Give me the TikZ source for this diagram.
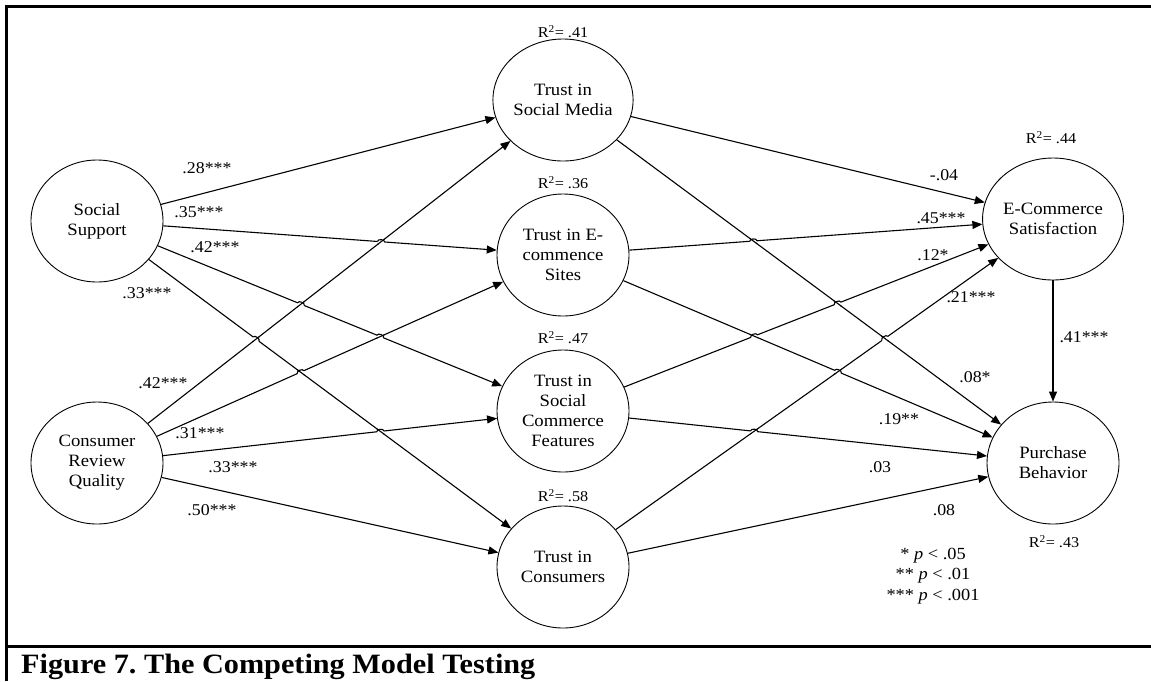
\documentclass[tikz,border=0pt]{standalone}
\usepackage{fontspec}
\setmainfont{Liberation Serif}[FakeStretch=1.08]
\usetikzlibrary{shapes.geometric,arrows.meta,calc,intersections}
\frenchspacing

\begin{document}
\begin{tikzpicture}[x=1pt,y=-1pt,
        latent/.style={ellipse,draw,line width=0.9pt,minimum width=132pt,minimum height=122pt,
                       inner sep=0pt,align=center,font=\fontsize{17.3}{20}\selectfont},
        coef/.style={inner sep=0pt,font=\fontsize{16.5}{18}\selectfont},
        rsq/.style={inner sep=0pt,font=\fontsize{15}{17}\selectfont},
        link/.style={line width=1.1pt,-{Triangle[length=10pt,width=8pt]}}]
        \useasboundingbox (0,0) rectangle (1151,681);
        % frame
        \draw[line width=3pt] (1151,6) -- (6,6) -- (6,681);
        \draw[line width=3pt] (6,646) -- (1151,646);

        \node[latent] (ss)   at (97,221)   {Social\\Support};
        \node[latent] (crq)  at (97,463)   {Consumer\\Review\\Quality};
        \node[latent] (tsm)  at (563,100)  {Trust in\\Social Media};
        \node[latent] (tes)  at (563,255)  {Trust in E-\\commence\\Sites};
        \node[latent] (tscf) at (563,411)  {Trust in\\Social\\Commerce\\Features};
        \node[latent] (tc)   at (563,567)  {Trust in\\Consumers};
        \node[latent] (ecs)  at (1053,219) {E-Commerce\\Satisfaction};
        \node[latent] (pb)   at (1053,463) {Purchase\\Behavior};

        \node[rsq] (r_tsm)  at (563,32)   {R\textsuperscript{2}= .41};
        \node[rsq] (r_tes)  at (563,183)  {R\textsuperscript{2}= .36};
        \node[rsq] (r_tscf) at (563,338)  {R\textsuperscript{2}= .47};
        \node[rsq] (r_tc)   at (563,496)  {R\textsuperscript{2}= .58};
        \node[rsq] (r_ecs)  at (1051,138) {R\textsuperscript{2}= .44};
        \node[rsq] (r_pb)   at (1054,542) {R\textsuperscript{2}= .43};

        \path[link]
        (ss)   edge (tsm)
               edge (tes)
               edge (tscf)
               edge (tc)
        (crq)  edge (tsm)
               edge (tes)
               edge (tscf)
               edge (tc)
        (tsm)  edge (ecs)
               edge (pb)
        (tes)  edge (ecs)
               edge (pb)
        (tscf) edge (ecs)
               edge (pb)
        (tc)   edge (ecs)
               edge (pb)
        (ecs)  edge (pb);

        % line jumps: the flatter line hops over the steeper one
        \foreach \a/\b/\c/\d in {ss/tes/crq/tsm, ss/tscf/crq/tsm, ss/tscf/crq/tes,
                                 ss/tc/crq/tsm, crq/tes/ss/tc, crq/tscf/ss/tc,
                                 tes/ecs/tsm/pb, tscf/ecs/tsm/pb, tc/ecs/tsm/pb,
                                 tscf/ecs/tes/pb, tes/pb/tc/ecs, tscf/pb/tc/ecs}{
            \path[name path=hop] (\a) -- (\b);
            \path[name path=under] (\c) -- (\d);
            \path[name intersections={of=hop and under,by=x}];
            \fill[white] (x) circle (3.6);
            \draw[line width=1.1pt] ($(x)!4.5pt!(\c)$) -- ($(x)!4.5pt!(\d)$);
            \draw[line width=1.1pt] ($(x)!3.6pt!(\a)$) to[bend left=90] ($(x)!3.6pt!(\b)$);
        }

        % path coefficients
        \node[coef] (c_ss_tsm)    at (207,168) {.28***};
        \node[coef] (c_ss_tes)    at (199,212) {.35***};
        \node[coef] (c_ss_tscf)   at (215,247) {.42***};
        \node[coef] (c_ss_tc)     at (147,293) {.33***};
        \node[coef] (c_crq_tsm)   at (163,383) {.42***};
        \node[coef] (c_crq_tes)   at (200,433) {.31***};
        \node[coef] (c_crq_tscf)  at (233,467) {.33***};
        \node[coef] (c_crq_tc)    at (212,510) {.50***};
        \node[coef] (c_tsm_ecs)   at (944,175) {-.04};
        \node[coef] (c_tes_ecs)   at (941,218) {.45***};
        \node[coef] (c_tscf_ecs)  at (933,255) {.12*};
        \node[coef] (c_tc_ecs)    at (971,297) {.21***};
        \node[coef] (c_ecs_pb)    at (1084,337) {.41***};
        \node[coef] (c_tsm_pb)    at (975,377) {.08*};
        \node[coef] (c_tes_pb)    at (899,419) {.19**};
        \node[coef] (c_tscf_pb)   at (880,467) {.03};
        \node[coef] (c_tc_pb)     at (944,510) {.08};

        \node[align=center,inner sep=0pt,font=\fontsize{17}{20.5}\selectfont] (key) at (933,576)
            {* \textit{p} < .05\\** \textit{p} < .01\\*** \textit{p} < .001};

        \node[anchor=base west,inner sep=0pt,font=\bfseries\fontsize{28}{30}\selectfont] (caption) at (21,673)
            {Figure 7. The Competing Model Testing};
\end{tikzpicture}
\end{document}
